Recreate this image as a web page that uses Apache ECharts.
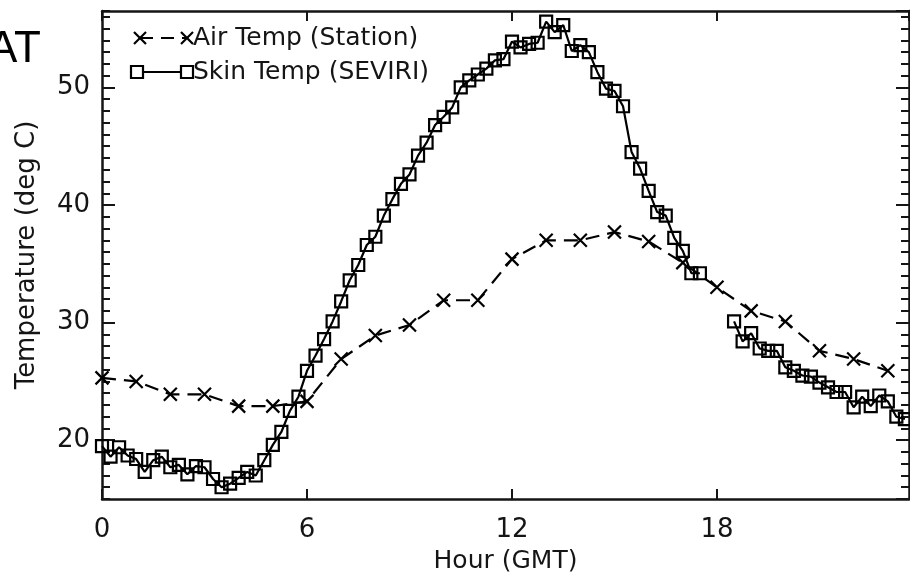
<!DOCTYPE html>
<html>
<head>
<meta charset="utf-8">
<script src="https://cdn.jsdelivr.net/npm/echarts@6/dist/echarts.min.js"></script>
<style>
html,body{margin:0;padding:0;background:#fff;}
#chart{width:910px;height:579px;}
</style>
</head>
<body>
<div id="chart"></div>
<script>
// ---- data ----
var airHours = [0,1,2,3,4,5,6,7,8,9,10,11,12,13,14,15,16,17,18,19,20,21,22,23];
var airTemp  = [25.3,25.0,23.9,23.9,22.9,22.9,23.3,26.9,28.9,29.8,31.9,31.9,35.4,37.0,37.0,37.7,36.9,35.1,33.0,31.0,30.1,27.6,26.9,25.9];

var skinHours = [0,0.25,0.5,0.75,1,1.25,1.5,1.75,2,2.25,2.5,2.75,3,3.25,3.5,3.75,
  4,4.25,4.5,4.75,5,5.25,5.5,5.75,6,6.25,6.5,6.75,7,7.25,7.5,7.75,
  8,8.25,8.5,8.75,9,9.25,9.5,9.75,10,10.25,10.5,10.75,11,11.25,11.5,11.75,
  12,12.25,12.5,12.75,13,13.25,13.5,13.75,14,14.25,14.5,14.75,15,15.25,15.5,15.75,
  16,16.25,16.5,16.75,17,17.25,17.5,17.75,18,18.25,18.5,18.75,19,19.25,19.5,19.75,
  20,20.25,20.5,20.75,21,21.25,21.5,21.75,22,22.25,22.5,22.75,23,23.25,23.5];
var skinTemp = [19.5,18.6,19.4,18.7,18.4,17.3,18.3,18.6,17.7,17.9,17.1,17.8,17.7,16.7,16.0,16.3,
  16.8,17.3,17.0,18.3,19.6,20.7,22.5,23.7,25.9,27.2,28.6,30.1,31.8,33.6,34.9,36.6,
  37.3,39.1,40.5,41.8,42.6,44.2,45.3,46.8,47.5,48.3,50.0,50.6,51.1,51.6,52.3,52.4,
  53.9,53.4,53.7,53.8,55.6,54.7,55.3,53.1,53.6,53.0,51.3,49.9,49.7,48.4,44.5,43.1,
  41.2,39.4,39.1,37.2,36.1,34.2,34.2,null,null,null,30.1,28.4,29.1,27.8,27.6,27.6,
  26.2,25.9,25.5,25.4,24.9,24.5,24.1,24.1,22.8,23.7,22.9,23.8,23.3,22.0,21.8];

var xTicks = [0,6,12,18];
var yTicks = [20,30,40,50];
var seriesNames = ['Air Temp (Station)','Skin Temp (SEVIRI)'];
var xTitle = 'Hour (GMT)';
var yTitle = 'Temperature (deg C)';
var cornerText = 'AT';

// ---- chart ----
var FONT = 'DejaVu Sans';
var INK = '#151515';
var XMIN = 0, XMAX = 23.62, YMIN = 15, YMAX = 56.5;
var crossPath = 'path://M0,0L10,10M10,0L0,10';

var airData = airHours.map(function(h,i){return [h, airTemp[i]];});
var skinData = skinHours.map(function(h,i){return [h, skinTemp[i] == null ? '-' : skinTemp[i]];});

var chart = echarts.init(document.getElementById('chart'), null, {renderer:'canvas'});

function yMajor(pos, labels){
  return {
    type:'value', position:pos, min:YMIN, max:YMAX, splitNumber:4,
    name: labels ? yTitle : '', nameLocation:'middle', nameGap:62,
    nameTextStyle:{fontFamily:FONT,fontSize:26,color:INK},
    axisLine:{show:true,onZero:false,lineStyle:{color:INK,width:2.5}},
    axisTick:{show:true,inside:true,length:13,lineStyle:{color:INK,width:2}},
    axisLabel:{show:labels,margin:12,fontFamily:FONT,fontSize:26,color:INK,
      padding:[6,0,0,0],
      showMinLabel:false,showMaxLabel:false,
      formatter:function(v){return yTicks.indexOf(v)>=0 ? String(v) : '';}},
    splitLine:{show:false}
  };
}
function yMinor(pos){
  return {
    type:'value', position:pos, min:YMIN, max:YMAX, interval:1,
    axisLine:{show:false,onZero:false},
    axisTick:{show:true,inside:true,length:8,lineStyle:{color:INK,width:2}},
    axisLabel:{show:false}, splitLine:{show:false}
  };
}
function xAx(pos, labels){
  return {
    type:'value', position:pos, min:XMIN, max:XMAX, interval:6,
    name: labels ? xTitle : '', nameLocation:'middle', nameGap:50,
    nameTextStyle:{fontFamily:FONT,fontSize:25,color:INK},
    axisLine:{show:true,onZero:false,lineStyle:{color:INK,width:2.5}},
    axisTick:{show:true,inside:true,length:10,lineStyle:{color:INK,width:2}},
    axisLabel:{show:labels,margin:18,fontFamily:FONT,fontSize:26,color:INK,
      showMinLabel:true,showMaxLabel:false,
      formatter:function(v){return xTicks.indexOf(v)>=0 ? String(v) : '';}},
    splitLine:{show:false}
  };
}

var lx1 = 140, lx2 = 187, ly1 = 38, ly2 = 72, ltx = 193;
function crossAt(cx, cy){
  return {type:'group', children:[
    {type:'line', shape:{x1:cx-6,y1:cy-6,x2:cx+6,y2:cy+6}, style:{stroke:'#000',lineWidth:2.2}},
    {type:'line', shape:{x1:cx+6,y1:cy-6,x2:cx-6,y2:cy+6}, style:{stroke:'#000',lineWidth:2.2}}
  ]};
}

var option = {
  backgroundColor:'#ffffff',
  animation:false,
  grid:{left:102, right:1, top:11, bottom:79, containLabel:false},
  xAxis:[xAx('bottom',true), xAx('top',false)],
  yAxis:[yMajor('left',true), yMinor('left'), yMajor('right',false), yMinor('right')],
  series:[
    {
      name:seriesNames[0], type:'line', xAxisIndex:0, yAxisIndex:0,
      data:airData, symbol:crossPath, symbolSize:13,
      itemStyle:{color:'#000',borderColor:'#000',borderWidth:2.2},
      lineStyle:{color:'#000',width:2.2,type:[14,8]},
      emphasis:{disabled:true}, z:3
    },
    {
      name:seriesNames[1], type:'line', xAxisIndex:0, yAxisIndex:0,
      data:skinData, symbol:'rect', symbolSize:12, connectNulls:false,
      itemStyle:{color:'rgba(0,0,0,0)',borderColor:'#000',borderWidth:2.2},
      lineStyle:{color:'#000',width:2.2},
      emphasis:{disabled:true}, z:4
    }
  ],
  graphic:[
    {type:'text', x:41, y:50, style:{text:cornerText, fontFamily:'Liberation Sans', fontSize:44, fill:'#000', align:'right', verticalAlign:'middle'}},
    {type:'line', shape:{x1:lx1,y1:ly1,x2:lx2,y2:ly1}, style:{stroke:'#000',lineWidth:2.2,lineDash:[13,8]}},
    crossAt(lx1, ly1),
    crossAt(lx2, ly1),
    {type:'text', x:ltx, y:ly1, style:{text:seriesNames[0], fontFamily:FONT, fontSize:25, fill:INK, verticalAlign:'middle'}},
    {type:'line', shape:{x1:lx1-3,y1:ly2,x2:lx2,y2:ly2}, style:{stroke:'#000',lineWidth:2.2}},
    {type:'rect', shape:{x:lx1-3-6,y:ly2-6,width:12,height:12}, style:{stroke:'#000',lineWidth:2.2,fill:'#fff'}},
    {type:'rect', shape:{x:lx2-6,y:ly2-6,width:12,height:12}, style:{stroke:'#000',lineWidth:2.2,fill:'#fff'}},
    {type:'text', x:ltx, y:ly2, style:{text:seriesNames[1], fontFamily:FONT, fontSize:25, fill:INK, verticalAlign:'middle'}}
  ]
};
chart.setOption(option);
</script>
</body>
</html>
